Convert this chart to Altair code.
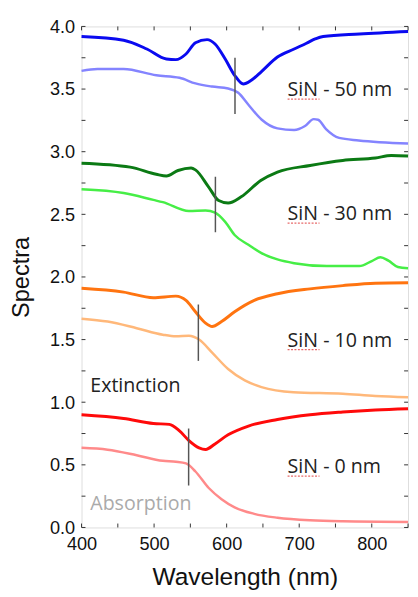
import altair as alt
import pandas as pd

# ---- data ----
ext50_x = [400, 458, 490, 517, 530, 544, 557, 573, 584, 598, 611, 623, 634, 648, 670, 693, 710, 722, 733, 783, 850]
ext50_y = [3.92, 3.89, 3.82, 3.74, 3.735, 3.78, 3.87, 3.895, 3.86, 3.74, 3.61, 3.54, 3.57, 3.64, 3.756, 3.82, 3.866, 3.90, 3.92, 3.94, 3.96]
abs50_x = [400, 422, 458, 503, 535, 557, 580, 602, 616, 630, 648, 670, 693, 708, 720, 726, 737, 755, 782, 850]
abs50_y = [3.645, 3.66, 3.66, 3.61, 3.59, 3.545, 3.52, 3.505, 3.47, 3.375, 3.257, 3.186, 3.173, 3.205, 3.26, 3.255, 3.18, 3.11, 3.09, 3.065]

ext30_x = [400, 467, 503, 517, 533, 551, 557, 575, 589, 602, 620, 647, 670, 715, 760, 805, 827, 850]
ext30_y = [2.908, 2.877, 2.82, 2.806, 2.85, 2.87, 2.855, 2.72, 2.61, 2.59, 2.64, 2.77, 2.837, 2.89, 2.93, 2.95, 2.97, 2.965]
abs30_x = [400, 458, 499, 512, 548, 571, 584, 598, 611, 630, 648, 670, 693, 738, 783, 800, 812, 823, 836, 850]
abs30_y = [2.70, 2.67, 2.615, 2.597, 2.526, 2.53, 2.513, 2.44, 2.335, 2.257, 2.19, 2.14, 2.11, 2.087, 2.087, 2.127, 2.158, 2.13, 2.08, 2.07]

ext10_x = [400, 458, 499, 530, 544, 557, 571, 580, 593, 611, 638, 670, 715, 760, 805, 850]
ext10_y = [1.91, 1.879, 1.834, 1.847, 1.813, 1.722, 1.631, 1.604, 1.644, 1.722, 1.813, 1.866, 1.905, 1.931, 1.95, 1.954]
abs10_x = [400, 436, 476, 512, 530, 548, 562, 580, 602, 625, 648, 692, 760, 805, 850]
abs10_y = [1.667, 1.644, 1.591, 1.539, 1.526, 1.531, 1.50, 1.396, 1.265, 1.174, 1.121, 1.08, 1.068, 1.05, 1.04]

ext0_x = [400, 458, 499, 521, 535, 548, 562, 571, 584, 602, 630, 670, 715, 760, 805, 850]
ext0_y = [0.90, 0.87, 0.83, 0.823, 0.771, 0.694, 0.636, 0.623, 0.667, 0.74, 0.81, 0.862, 0.90, 0.922, 0.938, 0.948]
abs0_x = [400, 436, 476, 512, 530, 544, 557, 575, 593, 611, 638, 670, 715, 760, 850]
abs0_y = [0.636, 0.621, 0.577, 0.532, 0.525, 0.512, 0.447, 0.317, 0.226, 0.161, 0.109, 0.078, 0.057, 0.049, 0.044]

series_names = ["ext50", "abs50", "ext30", "abs30", "ext10", "abs10", "ext0", "abs0"]
series_colors = ["#0a0af0", "#8484ff", "#0b7a14", "#46ee46", "#ff7410", "#ffb87a", "#ff0a0a", "#ff8a8a"]
series_widths = [3, 2.5, 3, 2.5, 3, 2.5, 3, 2.5]

# marker lines: wavelength, low, high
marker_x = [611.5, 584.5, 561, 547.6]
marker_lo = [3.30, 2.357, 1.33, 0.335]
marker_hi = [3.75, 2.80, 1.78, 0.79]

label_text = ["SiN - 50 nm", "SiN - 30 nm", "SiN - 10 nm", "SiN - 0 nm", "Extinction", "Absorption"]
label_x = [684, 684, 684, 684, 412, 412]
label_y = [3.49, 2.50, 1.49, 0.48, 1.13, 0.19]
label_color = ["#222222", "#222222", "#222222", "#222222", "#222222", "#aaaaaa"]

# spell-check underline under "SiN"
squiggle_x = [684, 684, 684, 684]
squiggle_x2 = [728, 728, 728, 728]
squiggle_y = [3.42, 2.43, 1.42, 0.41]

x_ticks = [400, 450, 500, 550, 600, 650, 700, 750, 800, 850]
y_ticks = [0, 0.25, 0.5, 0.75, 1.0, 1.25, 1.5, 1.75, 2.0, 2.25, 2.5, 2.75, 3.0, 3.25, 3.5, 3.75, 4.0]

W, H = 333, 511

xs = [ext50_x, abs50_x, ext30_x, abs30_x, ext10_x, abs10_x, ext0_x, abs0_x]
ys = [ext50_y, abs50_y, ext30_y, abs30_y, ext10_y, abs10_y, ext0_y, abs0_y]
rows = []
for name, w, xx, yy in zip(series_names, series_widths, xs, ys):
    for a, b in zip(xx, yy):
        rows.append({"series": name, "wl": a, "val": b, "w": w})
df = pd.DataFrame(rows)

xscale = alt.Scale(domain=[400, 850], nice=False, zero=False)
yscale = alt.Scale(domain=[0, 4], nice=False, zero=False)

xaxis = alt.Axis(values=[400, 500, 600, 700, 800], format="d", ticks=False, domain=False, grid=False,
                 labelFlush=False, labelOverlap=False,
                 labelFontSize=18.5, labelFont="Liberation Sans", labelColor="#111111", labelPadding=7,
                 title="Wavelength (nm)", titleFontSize=25, titleFont="Liberation Sans", titleFontWeight="normal",
                 titleColor="#111111", titlePadding=13)
yaxis = alt.Axis(values=[0, 0.5, 1, 1.5, 2, 2.5, 3, 3.5, 4], format=".1f", ticks=False, domain=False, grid=False,
                 labelFlush=False, labelOverlap=False,
                 labelFontSize=18.5, labelFont="Liberation Sans", labelColor="#111111", labelPadding=7,
                 title="Spectra", titleFontSize=24, titleFont="Liberation Sans", titleFontWeight="normal",
                 titleColor="#111111", titlePadding=16)

lines = alt.Chart(df).mark_line(interpolate="monotone").encode(
    x=alt.X("wl:Q", scale=xscale, axis=xaxis),
    y=alt.Y("val:Q", scale=yscale, axis=yaxis),
    color=alt.Color("series:N", scale=alt.Scale(domain=series_names, range=series_colors), legend=None),
    strokeWidth=alt.StrokeWidth("w:Q", scale=None),
    detail="series:N",
    order="wl:Q",
)

mk = pd.DataFrame({"x": marker_x, "lo": marker_lo, "hi": marker_hi})
markers = alt.Chart(mk).mark_rule(color="#555555", strokeWidth=1.5).encode(
    x=alt.X("x:Q", scale=xscale), y=alt.Y("lo:Q", scale=yscale), y2="hi:Q")

lb = pd.DataFrame({"t": label_text, "x": label_x, "y": label_y, "c": label_color})
labels = alt.Chart(lb).mark_text(align="left", baseline="middle", fontSize=20, font="Open Sans").encode(
    x=alt.X("x:Q", scale=xscale), y=alt.Y("y:Q", scale=yscale), text="t:N",
    color=alt.Color("c:N", scale=None))

sq = pd.DataFrame({"x": squiggle_x, "x2": squiggle_x2, "y": squiggle_y})
squiggles = alt.Chart(sq).mark_rule(color="#e86a6a", strokeWidth=1.3, strokeDash=[2, 1.5]).encode(
    x=alt.X("x:Q", scale=xscale), x2="x2:Q", y=alt.Y("y:Q", scale=yscale))

xt = pd.DataFrame({"v": x_ticks})
yt = pd.DataFrame({"v": y_ticks})
tick_style = dict(color="#333333", strokeWidth=1)
tb = alt.Chart(xt).mark_rule(**tick_style).encode(x=alt.X("v:Q", scale=xscale), y=alt.value(H), y2=alt.value(H - 4))
tt = alt.Chart(xt).mark_rule(**tick_style).encode(x=alt.X("v:Q", scale=xscale), y=alt.value(0), y2=alt.value(4))
tl = alt.Chart(yt).mark_rule(**tick_style).encode(y=alt.Y("v:Q", scale=yscale), x=alt.value(0), x2=alt.value(4))
tr = alt.Chart(yt).mark_rule(**tick_style).encode(y=alt.Y("v:Q", scale=yscale), x=alt.value(W), x2=alt.value(W - 4))

chart = alt.layer(lines, markers, labels, squiggles, tb, tt, tl, tr).properties(
    width=W, height=H,
    autosize=alt.AutoSizeParams(type="none"),
    padding={"left": 75, "top": 13, "right": 2, "bottom": 60},
).configure_view(stroke="#333333", strokeWidth=1.2).configure(background="white")

chart.save("out.html", embed_options={"renderer": "svg", "actions": False})
